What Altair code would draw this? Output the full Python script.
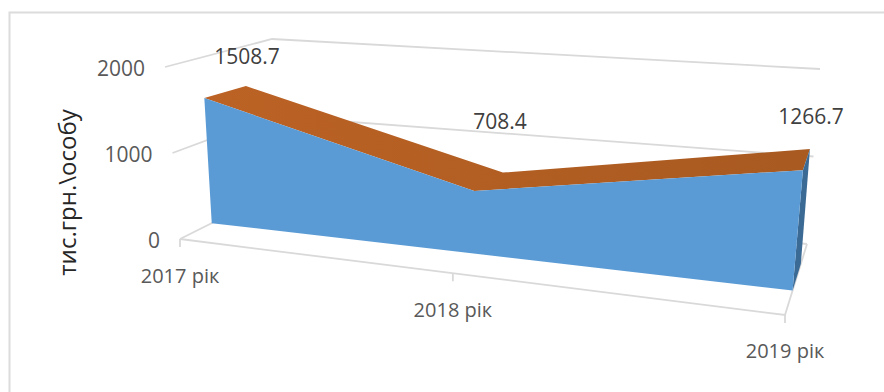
import altair as alt
import pandas as pd

# Chart content
categories = ["2017 рік", "2018 рік", "2019 рік"]
values = [1508.7, 708.4, 1266.7]
value_ticks = [0, 1000, 2000]
axis_title = "тис.грн.\\особу"

# Position of each category along the (foreshortened) horizontal axis,
# at the front of the box and at the rear edge of the area
category_pos = [0.0, 0.451, 1.0]
category_pos_rear = [0.005, 0.46, 1.0]

# Corners of the 3D box as screen coordinates: (depth, level) -> left/right
BOX = {
    "floor_front": ((180, 239), (785, 315)),
    "floor_back": ((272, 193), (807, 244)),
    "top_front": ((165, 67), (803, 117)),
    "top_back": ((272, 39), (820, 69)),
}
VALUE_MAX = 2000
AREA_FRONT, AREA_BACK = 0.345, 0.72


def lerp(a, b, t):
    return a + (b - a) * t


def project(u, depth, value):
    """Trilinear projection of (category position, depth, value) to the screen."""
    level = value / VALUE_MAX
    out = []
    for i in (0, 1):
        ff = lerp(BOX["floor_front"][0][i], BOX["floor_front"][1][i], u)
        fb = lerp(BOX["floor_back"][0][i], BOX["floor_back"][1][i], u)
        tf = lerp(BOX["top_front"][0][i], BOX["top_front"][1][i], u)
        tb = lerp(BOX["top_back"][0][i], BOX["top_back"][1][i], u)
        out.append(lerp(lerp(ff, fb, depth), lerp(tf, tb, depth), level))
    return out


def frame(points):
    rows = [{"x": p[0], "y": p[1], "i": k} for k, p in enumerate(points)]
    return pd.DataFrame(rows)


X = alt.X("x:Q", scale=alt.Scale(domain=[0, 884], range=[0, 884]), axis=None)
Y = alt.Y("y:Q", scale=alt.Scale(domain=[0, 392], range=[0, 392]), axis=None)
enc = dict(x=X, y=Y, order="i:Q")


def stroke_path(points, color="#d9d9d9", width=1.8):
    return alt.Chart(frame(points)).mark_line(color=color, strokeWidth=width).encode(**enc)


def face(points, fill):
    return (
        alt.Chart(frame(points))
        .mark_line(fill=fill, stroke=None, interpolate="linear-closed", strokeWidth=0)
        .encode(**enc)
    )


def text_layer(rows, font, size, color="#595959", align="center", angle=0):
    return (
        alt.Chart(pd.DataFrame(rows))
        .mark_text(font=font, fontSize=size, color=color, align=align, baseline="middle", angle=angle)
        .encode(x=X, y=Y, text="t:N")
    )


layers = []

# Chart frame: only the top and left edges fall inside the canvas
layers.append(stroke_path([(9.5, 392), (9.5, 12.5), (884, 12.5)], "#dcdcdc", 2))

# Gridlines on the side and back walls
for tick in value_ticks:
    layers.append(
        stroke_path([project(0, 0, tick), project(0, 1, tick), project(1, 1, tick)])
    )

# Floor edges and category ticks
layers.append(stroke_path([project(0, 0, 0), project(1, 0, 0), project(1, 1, 0)]))
for u in category_pos:
    base = project(u, 0, 0)
    layers.append(stroke_path([base, (base[0], base[1] + 8)]))

# Area surfaces: top ribbon, end cap, front face
front = [project(u, AREA_FRONT, v) for u, v in zip(category_pos, values)]
back = [project(u, AREA_BACK, v) for u, v in zip(category_pos_rear, values)]
front_base = [project(0, AREA_FRONT, 0), project(1, AREA_FRONT, 0)]
back_base = project(1, AREA_BACK, 0)

ribbon_fill = alt.Gradient(
    gradient="linear", x1=0, y1=0, x2=1, y2=0,
    stops=[alt.GradientStop(color="#bc6225", offset=0), alt.GradientStop(color="#a85a20", offset=1)],
)
layers.append(face(front + back[::-1], ribbon_fill))
layers.append(face([front[-1], back[-1], back_base, front_base[1]], "#3b6a94"))
layers.append(face(front + [front_base[1], front_base[0]], "#5b9bd5"))

# Text
FONT = "Open Sans"
tick_rows = []
for tick in value_ticks:
    p = project(0, 0, tick)
    tick_rows.append({"x": p[0] - 20, "y": p[1] + 2.5, "t": str(tick)})
layers.append(text_layer(tick_rows, FONT, 21, align="right"))

cat_rows = []
for u, name, dy in zip(category_pos, categories, [38, 38, 37]):
    p = project(u, 0, 0)
    cat_rows.append({"x": p[0], "y": p[1] + dy, "t": name})
layers.append(text_layer(cat_rows, FONT, 20))

label_offsets = [(1, -28), (-3, -50), (1, -31)]
label_rows = []
for p, v, (dx, dy) in zip(back, values, label_offsets):
    label_rows.append({"x": p[0] + dx, "y": p[1] + dy, "t": str(v)})
layers.append(text_layer(label_rows, FONT, 21, color="#404040"))

layers.append(
    text_layer([{"x": 69, "y": 192.5, "t": axis_title}], FONT, 24, color="#262626", angle=270)
)

chart = (
    alt.layer(*layers)
    .properties(width=884, height=392, padding=0, autosize=alt.AutoSizeParams(type="none"), background="white")
    .configure_view(stroke=None)
)

chart.save("out.html", embed_options={"renderer": "svg", "actions": False})
